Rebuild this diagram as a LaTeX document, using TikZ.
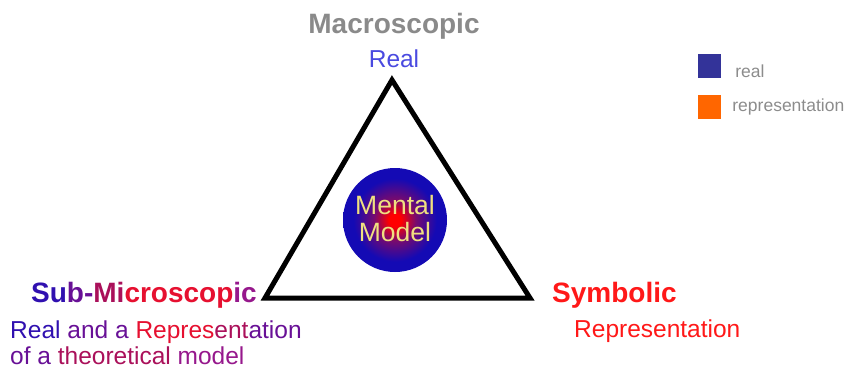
\documentclass[tikz,border=0pt]{standalone}
\usepackage{fontspec}
\setmainfont{Liberation Sans}
\usepackage{xcolor}
\definecolor{macrogray}{RGB}{138,138,138}
\definecolor{realblue}{RGB}{74,74,224}
\definecolor{symred}{RGB}{255,24,24}
\definecolor{legblue}{RGB}{51,51,153}
\definecolor{legorange}{RGB}{255,102,0}
\definecolor{legtext}{RGB}{140,140,140}
\definecolor{mentalyellow}{RGB}{240,224,128}
\definecolor{ballblue}{RGB}{20,10,180}
\definecolor{ballmid}{RGB}{120,10,110}
\definecolor{ballred}{RGB}{255,0,0}
\definecolor{subA}{RGB}{48,16,176}
\definecolor{subB}{RGB}{104,16,150}
\definecolor{subC}{RGB}{170,16,90}
\definecolor{subD}{RGB}{230,16,48}
\definecolor{subE}{RGB}{150,24,140}
\usepackage{tikz}
\usetikzlibrary{positioning}
\pgfdeclareradialshading{mentalshade}{\pgfpoint{0bp}{0bp}}{%
  color(0bp)=(ballred); color(3bp)=(ballred); color(10bp)=(ballmid);
  color(20bp)=(ballblue); color(50bp)=(ballblue)}

\begin{document}
\begin{tikzpicture}[
  x=1pt, y=-1pt,
  heading/.style={inner sep=0pt, font=\fontsize{28}{32}\selectfont\bfseries},
  sublabel/.style={inner sep=0pt, font=\fontsize{24.5}{26}\selectfont},
  legbox/.style={minimum width=23pt, minimum height=24pt, inner sep=0pt},
  legtxt/.style={inner sep=0pt, font=\fontsize{17.5}{20}\selectfont, text=legtext, anchor=west}
]
\useasboundingbox (0,0) rectangle (851,370);

% triangle
\coordinate (top) at (392,80);
\coordinate (left) at (265,298);
\coordinate (right) at (530,298);
\draw[line width=5pt, line join=miter] (top) -- (left) -- (right) -- cycle;

% centre ball
\node[circle, minimum size=104pt, inner sep=0pt, shading=mentalshade] (mental) at (395,220) {};
\node[align=center, font=\fontsize{26.5}{27}\selectfont, text=mentalyellow] (mentaltxt) at (395,219) {Mental\\Model};

% corner labels
\node[heading, text=macrogray] (macro) at (394,26) {Macroscopic};
\node[sublabel, text=realblue, below=10pt of macro] (macroreal) {Real};

\node[heading, anchor=east] (submicro) at (257,295)
  {\textcolor{subA}{Su}\textcolor{subB}{b-}\textcolor{subC}{Mi}\textcolor{subD}{croscop}\textcolor{subE}{ic}};
\node[sublabel, anchor=north west, align=left] (subreal) at (10,321)
  {\textcolor{subA}{Real} \textcolor{subB}{and a} \textcolor{subD}{Repres}\textcolor{subC}{ent}\textcolor{subB}{ation}\\
   \textcolor{subB}{of a} \textcolor{subC}{theoretical} \textcolor{subE}{model}};

\node[heading, text=symred, anchor=west] (symbolic) at (552,295) {Symbolic};
\node[sublabel, text=symred, anchor=west] (symrep) at (574,331) {Representation};

% legend
\node[legbox, fill=legblue] (legreal) at (709.5,66) {};
\node[legbox, fill=legorange, below=17pt of legreal] (legrep) {};
\node[legtxt, right=14pt of legreal, yshift=-5pt] (legrealtxt) {real};
\node[legtxt, right=11pt of legrep] (legreptxt) {representation};
\end{tikzpicture}
\end{document}
